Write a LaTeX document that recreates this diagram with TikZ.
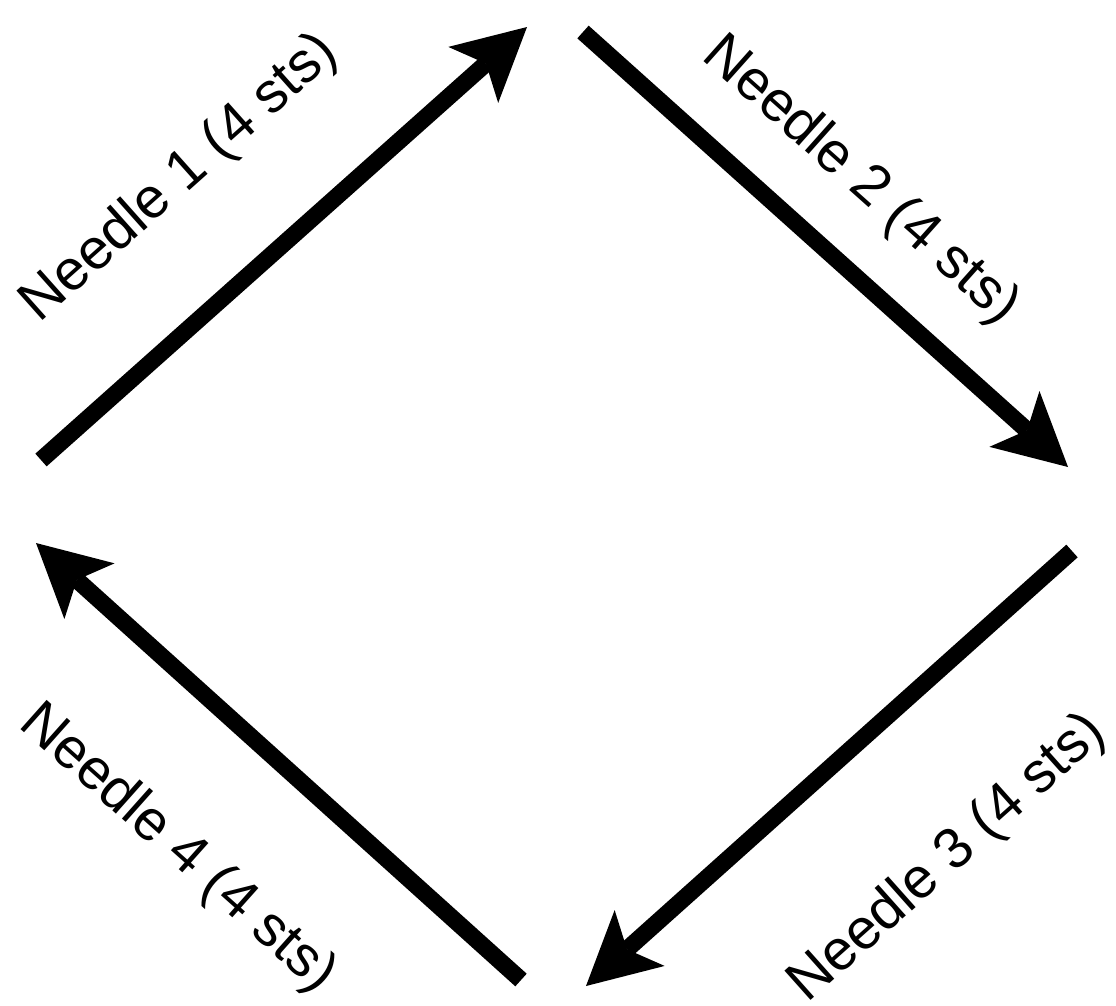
\documentclass[tikz,border=0pt]{standalone}
\usepackage{fontspec}
\setmainfont{Liberation Sans}
\usetikzlibrary{arrows.meta}
\begin{document}
\begin{tikzpicture}[x=1pt,y=-1pt,
  needle/.style={line width=17pt, draw=black,
    -{Stealth[length=72pt,width=75pt,inset=17pt,line width=0pt]}},
  lbl/.style={font=\fontsize{57}{64}\selectfont, inner sep=0pt, anchor=base}]
\useasboundingbox[fill=white] (0,0) rectangle (1116,1005);
\coordinate (a1) at (41,460);   \coordinate (b1) at (527,27);
\coordinate (a2) at (583,32);   \coordinate (b2) at (1068,467);
\coordinate (a3) at (1072,551); \coordinate (b3) at (586,986);
\coordinate (a4) at (521,980);  \coordinate (b4) at (36,543);
\draw[needle] (a1) -- (b1);
\draw[needle] (a2) -- (b2);
\draw[needle] (a3) -- (b3);
\draw[needle] (a4) -- (b4);
\node[lbl, rotate=41.7]  (l1) at (190,190) {Needle 1 (4 sts)};
\node[lbl, rotate=-41.7] (l2) at (851,192) {Needle 2 (4 sts)};
\node[lbl, rotate=41.7]  (l3) at (958,870) {Needle 3 (4 sts)};
\node[lbl, rotate=-41.7] (l4) at (168,860) {Needle 4 (4 sts)};
\end{tikzpicture}
\end{document}
